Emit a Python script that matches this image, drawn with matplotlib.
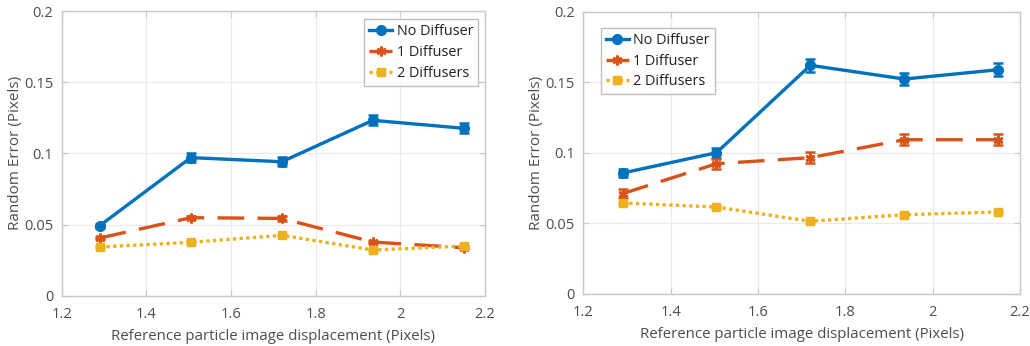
import matplotlib
matplotlib.use("Agg")
import matplotlib.pyplot as plt

plt.rcParams['font.family'] = ['Open Sans', 'DejaVu Sans']

x = [1.29, 1.505, 1.72, 1.935, 2.15]

# Left panel
left_no = [0.0492, 0.0970, 0.0941, 0.1232, 0.1176]
left_no_err = [0.0015, 0.0030, 0.0030, 0.0035, 0.0035]
left_one = [0.0405, 0.0548, 0.0543, 0.0377, 0.0337]
left_one_err = [0.0010, 0.0012, 0.0015, 0.0010, 0.0010]
left_two = [0.0342, 0.0375, 0.0424, 0.0321, 0.0349]
left_two_err = [0.0008, 0.0008, 0.0008, 0.0008, 0.0008]

# Right panel
right_no = [0.0857, 0.1001, 0.1620, 0.1523, 0.1589]
right_no_err = [0.0030, 0.0035, 0.0045, 0.0045, 0.0045]
right_one = [0.0711, 0.0923, 0.0966, 0.1093, 0.1093]
right_one_err = [0.0030, 0.0035, 0.0040, 0.0040, 0.0040]
right_two = [0.0645, 0.0616, 0.0515, 0.0562, 0.0581]
right_two_err = [0.0010, 0.0010, 0.0010, 0.0010, 0.0010]

labels = ['No Diffuser', '1 Diffuser', '2 Diffusers']
colors = ['#0072BD', '#D95319', '#EDB120']
styles = ['-', (0, (8, 4)), (0, (1.0, 1.0))]
markers = ['o', (6, 2, 0), 's']
msizes = [7, 7, 6]

xlabel = 'Reference particle image displacement (Pixels)'
ylabel = 'Random Error (Pixels)'
xticks = [1.2, 1.4, 1.6, 1.8, 2.0, 2.2]
xticklabels = ['1.2', '1.4', '1.6', '1.8', '2', '2.2']
yticks = [0, 0.05, 0.1, 0.15, 0.2]
yticklabels = ['0', '0.05', '0.1', '0.15', '0.2']

fig = plt.figure(figsize=(10.3, 3.46), dpi=100)
ax1 = fig.add_axes([0.0599, 0.1454, 0.411, 0.8228])
ax2 = fig.add_axes([0.5663, 0.1503, 0.424, 0.8159])

textc = '#4d4d4d'

def draw(ax, series, errs, legloc, anchor):
    for i, (y, e) in enumerate(zip(series, errs)):
        ax.errorbar(x, y, yerr=e, color=colors[i], linestyle='none',
                    capsize=3.5, elinewidth=1.8, capthick=1.8)
        ax.plot(x, y, color=colors[i], linestyle=styles[i], marker=markers[i],
                markersize=msizes[i], markeredgewidth=2.0 if i == 1 else 1.0,
                linewidth=2.4, label=labels[i])
    ax.set_xlim(1.2, 2.2)
    ax.set_ylim(0, 0.2)
    ax.set_xticks(xticks)
    ax.set_xticklabels(xticklabels)
    ax.set_yticks(yticks)
    ax.set_yticklabels(yticklabels)
    ax.grid(True, color='#ebebeb', linewidth=0.9)
    ax.set_axisbelow(True)
    for s in ax.spines.values():
        s.set_color('#c8c8c8')
        s.set_linewidth(1.0)
    ax.tick_params(colors='#c8c8c8', labelcolor=textc, labelsize=10.5,
                   direction='in', length=4, top=True, right=True)
    ax.tick_params(axis='x', pad=8)
    ax.tick_params(axis='y', pad=6)
    ax.set_xlabel(xlabel, color=textc, fontsize=10.8, labelpad=5)
    ax.set_ylabel(ylabel, color=textc, fontsize=11, labelpad=1)
    leg = ax.legend(loc=legloc, bbox_to_anchor=anchor, fontsize=10.4,
                    frameon=True, fancybox=False, edgecolor='#b0b0b0',
                    handlelength=1.6, handletextpad=0.3, borderpad=0.35,
                    labelspacing=0.4, borderaxespad=0.0)
    for t in leg.get_texts():
        t.set_color('#222222')
    leg.get_frame().set_linewidth(1.0)

draw(ax1, [left_no, left_one, left_two], [left_no_err, left_one_err, left_two_err],
     'upper right', (0.984, 0.972))
draw(ax2, [right_no, right_one, right_two], [right_no_err, right_one_err, right_two_err],
     'upper left', (0.040, 0.943))

fig.savefig('out.png', dpi=100)
